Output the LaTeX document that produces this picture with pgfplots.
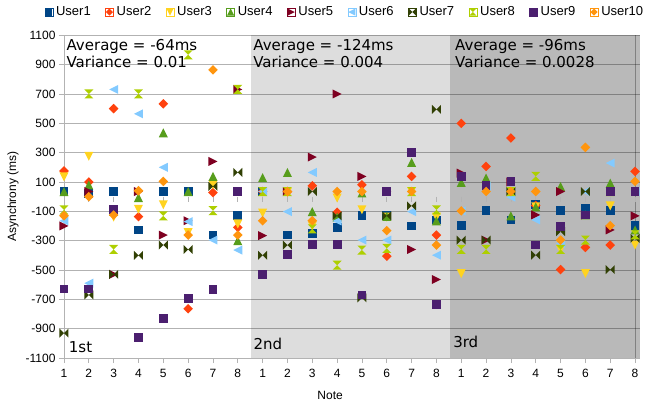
\documentclass[border=0pt]{standalone}
\usepackage{pgfplots}
\usepackage{pgfplotstable}
\pgfplotsset{compat=1.18}
\usepackage{fontspec}
\setmainfont{Liberation Sans}
\newfontfamily\dejavu{DejaVu Sans}

\definecolor{c1}{HTML}{004586}
\definecolor{c2}{HTML}{FF420E}
\definecolor{c3}{HTML}{FFD320}
\definecolor{c4}{HTML}{579D1C}
\definecolor{c5}{HTML}{7E0021}
\definecolor{c6}{HTML}{83CAFF}
\definecolor{c7}{HTML}{314004}
\definecolor{c8}{HTML}{AECF00}
\definecolor{c9}{HTML}{4B1F6F}
\definecolor{c10}{HTML}{FF950E}
\definecolor{bandA}{HTML}{DDDDDD}
\definecolor{bandB}{HTML}{B9B9B9}
\definecolor{axgray}{HTML}{B3B3B3}

\pgfdeclareplotmark{losq}{%
  \pgfpathrectangle{\pgfqpoint{-\pgfplotmarksize}{-\pgfplotmarksize}}{\pgfqpoint{2\pgfplotmarksize}{2\pgfplotmarksize}}%
  \pgfusepathqfill}
\pgfdeclareplotmark{lodia}{%
  \pgfpathmoveto{\pgfqpoint{0pt}{\pgfplotmarksize}}%
  \pgfpathlineto{\pgfqpoint{\pgfplotmarksize}{0pt}}%
  \pgfpathlineto{\pgfqpoint{0pt}{-\pgfplotmarksize}}%
  \pgfpathlineto{\pgfqpoint{-\pgfplotmarksize}{0pt}}%
  \pgfpathclose\pgfusepathqfill}
\pgfdeclareplotmark{lodown}{%
  \pgfpathmoveto{\pgfqpoint{-\pgfplotmarksize}{\pgfplotmarksize}}%
  \pgfpathlineto{\pgfqpoint{\pgfplotmarksize}{\pgfplotmarksize}}%
  \pgfpathlineto{\pgfqpoint{0pt}{-\pgfplotmarksize}}%
  \pgfpathclose\pgfusepathqfill}
\pgfdeclareplotmark{loup}{%
  \pgfpathmoveto{\pgfqpoint{-\pgfplotmarksize}{-\pgfplotmarksize}}%
  \pgfpathlineto{\pgfqpoint{\pgfplotmarksize}{-\pgfplotmarksize}}%
  \pgfpathlineto{\pgfqpoint{0pt}{\pgfplotmarksize}}%
  \pgfpathclose\pgfusepathqfill}
\pgfdeclareplotmark{loright}{%
  \pgfpathmoveto{\pgfqpoint{-\pgfplotmarksize}{\pgfplotmarksize}}%
  \pgfpathlineto{\pgfqpoint{-\pgfplotmarksize}{-\pgfplotmarksize}}%
  \pgfpathlineto{\pgfqpoint{\pgfplotmarksize}{0pt}}%
  \pgfpathclose\pgfusepathqfill}
\pgfdeclareplotmark{loleft}{%
  \pgfpathmoveto{\pgfqpoint{\pgfplotmarksize}{\pgfplotmarksize}}%
  \pgfpathlineto{\pgfqpoint{\pgfplotmarksize}{-\pgfplotmarksize}}%
  \pgfpathlineto{\pgfqpoint{-\pgfplotmarksize}{0pt}}%
  \pgfpathclose\pgfusepathqfill}
\pgfdeclareplotmark{lobow}{%
  \pgfpathmoveto{\pgfqpoint{-\pgfplotmarksize}{\pgfplotmarksize}}%
  \pgfpathlineto{\pgfqpoint{-\pgfplotmarksize}{-\pgfplotmarksize}}%
  \pgfpathlineto{\pgfqpoint{0pt}{0pt}}%
  \pgfpathclose
  \pgfpathmoveto{\pgfqpoint{\pgfplotmarksize}{\pgfplotmarksize}}%
  \pgfpathlineto{\pgfqpoint{\pgfplotmarksize}{-\pgfplotmarksize}}%
  \pgfpathlineto{\pgfqpoint{0pt}{0pt}}%
  \pgfpathclose\pgfusepathqfill}
\pgfdeclareplotmark{lohour}{%
  \pgfpathmoveto{\pgfqpoint{-\pgfplotmarksize}{\pgfplotmarksize}}%
  \pgfpathlineto{\pgfqpoint{\pgfplotmarksize}{\pgfplotmarksize}}%
  \pgfpathlineto{\pgfqpoint{0pt}{0pt}}%
  \pgfpathclose
  \pgfpathmoveto{\pgfqpoint{-\pgfplotmarksize}{-\pgfplotmarksize}}%
  \pgfpathlineto{\pgfqpoint{\pgfplotmarksize}{-\pgfplotmarksize}}%
  \pgfpathlineto{\pgfqpoint{0pt}{0pt}}%
  \pgfpathclose\pgfusepathqfill}

\pgfplotstableread{
x u1 u2 u3 u4 u5 u6 u7 u8 u9 u10
0 35 175 135 35 -200 -165 -930 -90 -630 -130
1 20 100 275 80 35 -590 -670 700 -630 0
2 35 600 -140 -100 -530 731 -530 -360 -90 -125
3 -227 -136 -86 -6 35 565 -400 700 -962 40
4 35 633 -56 435 -262 200 -330 -131 -832 104
5 35 -764 -245 35 -164 -170 -360 967 -695 -262
6 -262 28 80 138 240 -296 70 -95 -632 864
7 -131 -210 -186 -300 731 -364 165 731 35 -262
8 35 35 -113 130 -266 35 -400 35 -530 -164
9 -262 35 30 165 35 -102 -330 35 -395 35
10 -250 74 -200 -102 270 165 35 -220 -325 -164
11 -209 -106 -10 -140 700 -166 -131 -467 -325 35
12 -131 81 -90 25 138 -296 -690 -364 -670 35
13 -131 -406 -140 -135 35 -296 -131 -353 35 -232
14 -200 138 35 234 -360 -102 -63 35 300 35
15 -159 -262 -140 -165 -565 -399 595 -90 -734 -330
16 -198 500 -524 97 161 -97 -296 -360 138 -97
17 -97 206 74 127 -296 74 -296 -360 74 35
18 -159 400 35 -131 100 -3 35 35 104 35
19 -56 -60 -70 -70 -125 -159 -399 138 -330 35
20 -97 -497 -360 69 35 -320 -239 -360 -205 -296
21 -79 -346 -524 -125 -125 35 35 -296 -125 336
22 -97 -330 -63 92 -227 229 -497 35 35 -198
23 -198 172 -330 -227 -131 35 -285 -260 35 104
}\data

\begin{document}
\begin{tikzpicture}
\begin{axis}[
  set layers,
  at={(0pt,0pt)}, anchor=south west,
  scale only axis, width=576pt, height=322.7pt,
  xmin=0, xmax=23.2, ymin=-1100, ymax=1100,
  axis x line*=bottom, axis y line*=left,
  axis line style={draw=axgray, line width=0.8pt},
  xtick={0,...,23},
  xticklabels={1,2,3,4,5,6,7,8,1,2,3,4,5,6,7,8,1,2,3,4,5,6,7,8},
  ytick={-1100,-900,...,1100},
  tick align=outside, major tick length=5pt,
  tick style={draw=axgray, line width=0.8pt},
  ymajorgrids, grid style={draw=black, opacity=0.3, line width=0.8pt},
  tick label style={font=\fontsize{12}{14}\selectfont, text=black},
  xticklabel style={yshift=-3pt},
  /pgf/number format/assume math mode=true,
  /pgf/number format/1000 sep={},
  xlabel={Note}, ylabel={Asynchrony (ms)},
  xlabel style={font=\fontsize{12}{14}\selectfont, at={(axis description cs:0.462,-0.1147)}, anchor=center},
  ylabel style={font=\fontsize{12}{14}\selectfont, at={(axis description cs:-0.0885,0.5)}, anchor=center},
  legend columns=10,
  legend cell align=left,
  legend style={at={(axis description cs:0.486,1.072)}, anchor=center, draw=none, fill=none,
    font=\fontsize{13}{15}\selectfont, nodes={inner sep=0pt},
    /tikz/every odd column/.append style={column sep=3pt},
    /tikz/every even column/.append style={column sep=14.5pt}},
  legend image code/.code={\path (-4pt,-4pt) rectangle (4pt,4pt); \draw[#1, mark size=3.6pt] plot coordinates {(0pt,0pt)};},
  clip=false,
]
\begin{pgfonlayer}{axis background}
\fill[bandA] (axis cs:7.55,-1100) rectangle (axis cs:15.55,1100);
\fill[bandB] (axis cs:15.55,-1100) rectangle (axis cs:23.2,1100);
\draw[black, opacity=0.3, line width=0.8pt] (axis cs:23,-1100) -- (axis cs:23,1100);
\end{pgfonlayer}
\pgfplotsinvokeforeach{0,...,23}{\draw[axgray, line width=0.8pt] (axis cs:#1,0) -- ++(0pt,-5pt);}

\addplot[only marks, mark=losq, mark size=4.4pt, color=c1] table[x=x,y=u1] {\data};
\addlegendentry{User1}
\addplot[only marks, mark=lodia, mark size=4.8pt, color=c2] table[x=x,y=u2] {\data};
\addlegendentry{User2}
\addplot[only marks, mark=lodown, mark size=4.5pt, color=c3] table[x=x,y=u3] {\data};
\addlegendentry{User3}
\addplot[only marks, mark=loup, mark size=4.5pt, color=c4] table[x=x,y=u4] {\data};
\addlegendentry{User4}
\addplot[only marks, mark=loright, mark size=4.5pt, color=c5] table[x=x,y=u5] {\data};
\addlegendentry{User5}
\addplot[only marks, mark=loleft, mark size=4.5pt, color=c6] table[x=x,y=u6] {\data};
\addlegendentry{User6}
\addplot[only marks, mark=lobow, mark size=4.5pt, color=c7] table[x=x,y=u7] {\data};
\addlegendentry{User7}
\addplot[only marks, mark=lohour, mark size=4.5pt, color=c8] table[x=x,y=u8] {\data};
\addlegendentry{User8}
\addplot[only marks, mark=losq, mark size=4.4pt, color=c9] table[x=x,y=u9] {\data};
\addlegendentry{User9}
\addplot[only marks, mark=lodia, mark size=4.8pt, color=c10] table[x=x,y=u10] {\data};
\addlegendentry{User10}

\begin{scope}[font=\dejavu\fontsize{15}{17}\selectfont]
\node[anchor=base west, inner sep=0pt] at (axis cs:0.097,999) {Average = -64ms};
\node[anchor=base west, inner sep=0pt] at (axis cs:0.097,882) {Variance = 0.01};
\node[anchor=base west, inner sep=0pt] at (axis cs:7.62,999) {Average = -124ms};
\node[anchor=base west, inner sep=0pt] at (axis cs:7.62,882) {Variance = 0.004};
\node[anchor=base west, inner sep=0pt] at (axis cs:15.75,999) {Average = -96ms};
\node[anchor=base west, inner sep=0pt] at (axis cs:15.75,882) {Variance = 0.0028};
\node[anchor=base west, inner sep=0pt] at (axis cs:0.19,-1060) {1st};
\node[anchor=base west, inner sep=0pt] at (axis cs:7.63,-1045) {2nd};
\node[anchor=base west, inner sep=0pt] at (axis cs:15.67,-1030) {3rd};
\end{scope}
\end{axis}
\pgfresetboundingbox
\path (-64pt,-52pt) rectangle (587pt,358pt);
\end{tikzpicture}
\end{document}
